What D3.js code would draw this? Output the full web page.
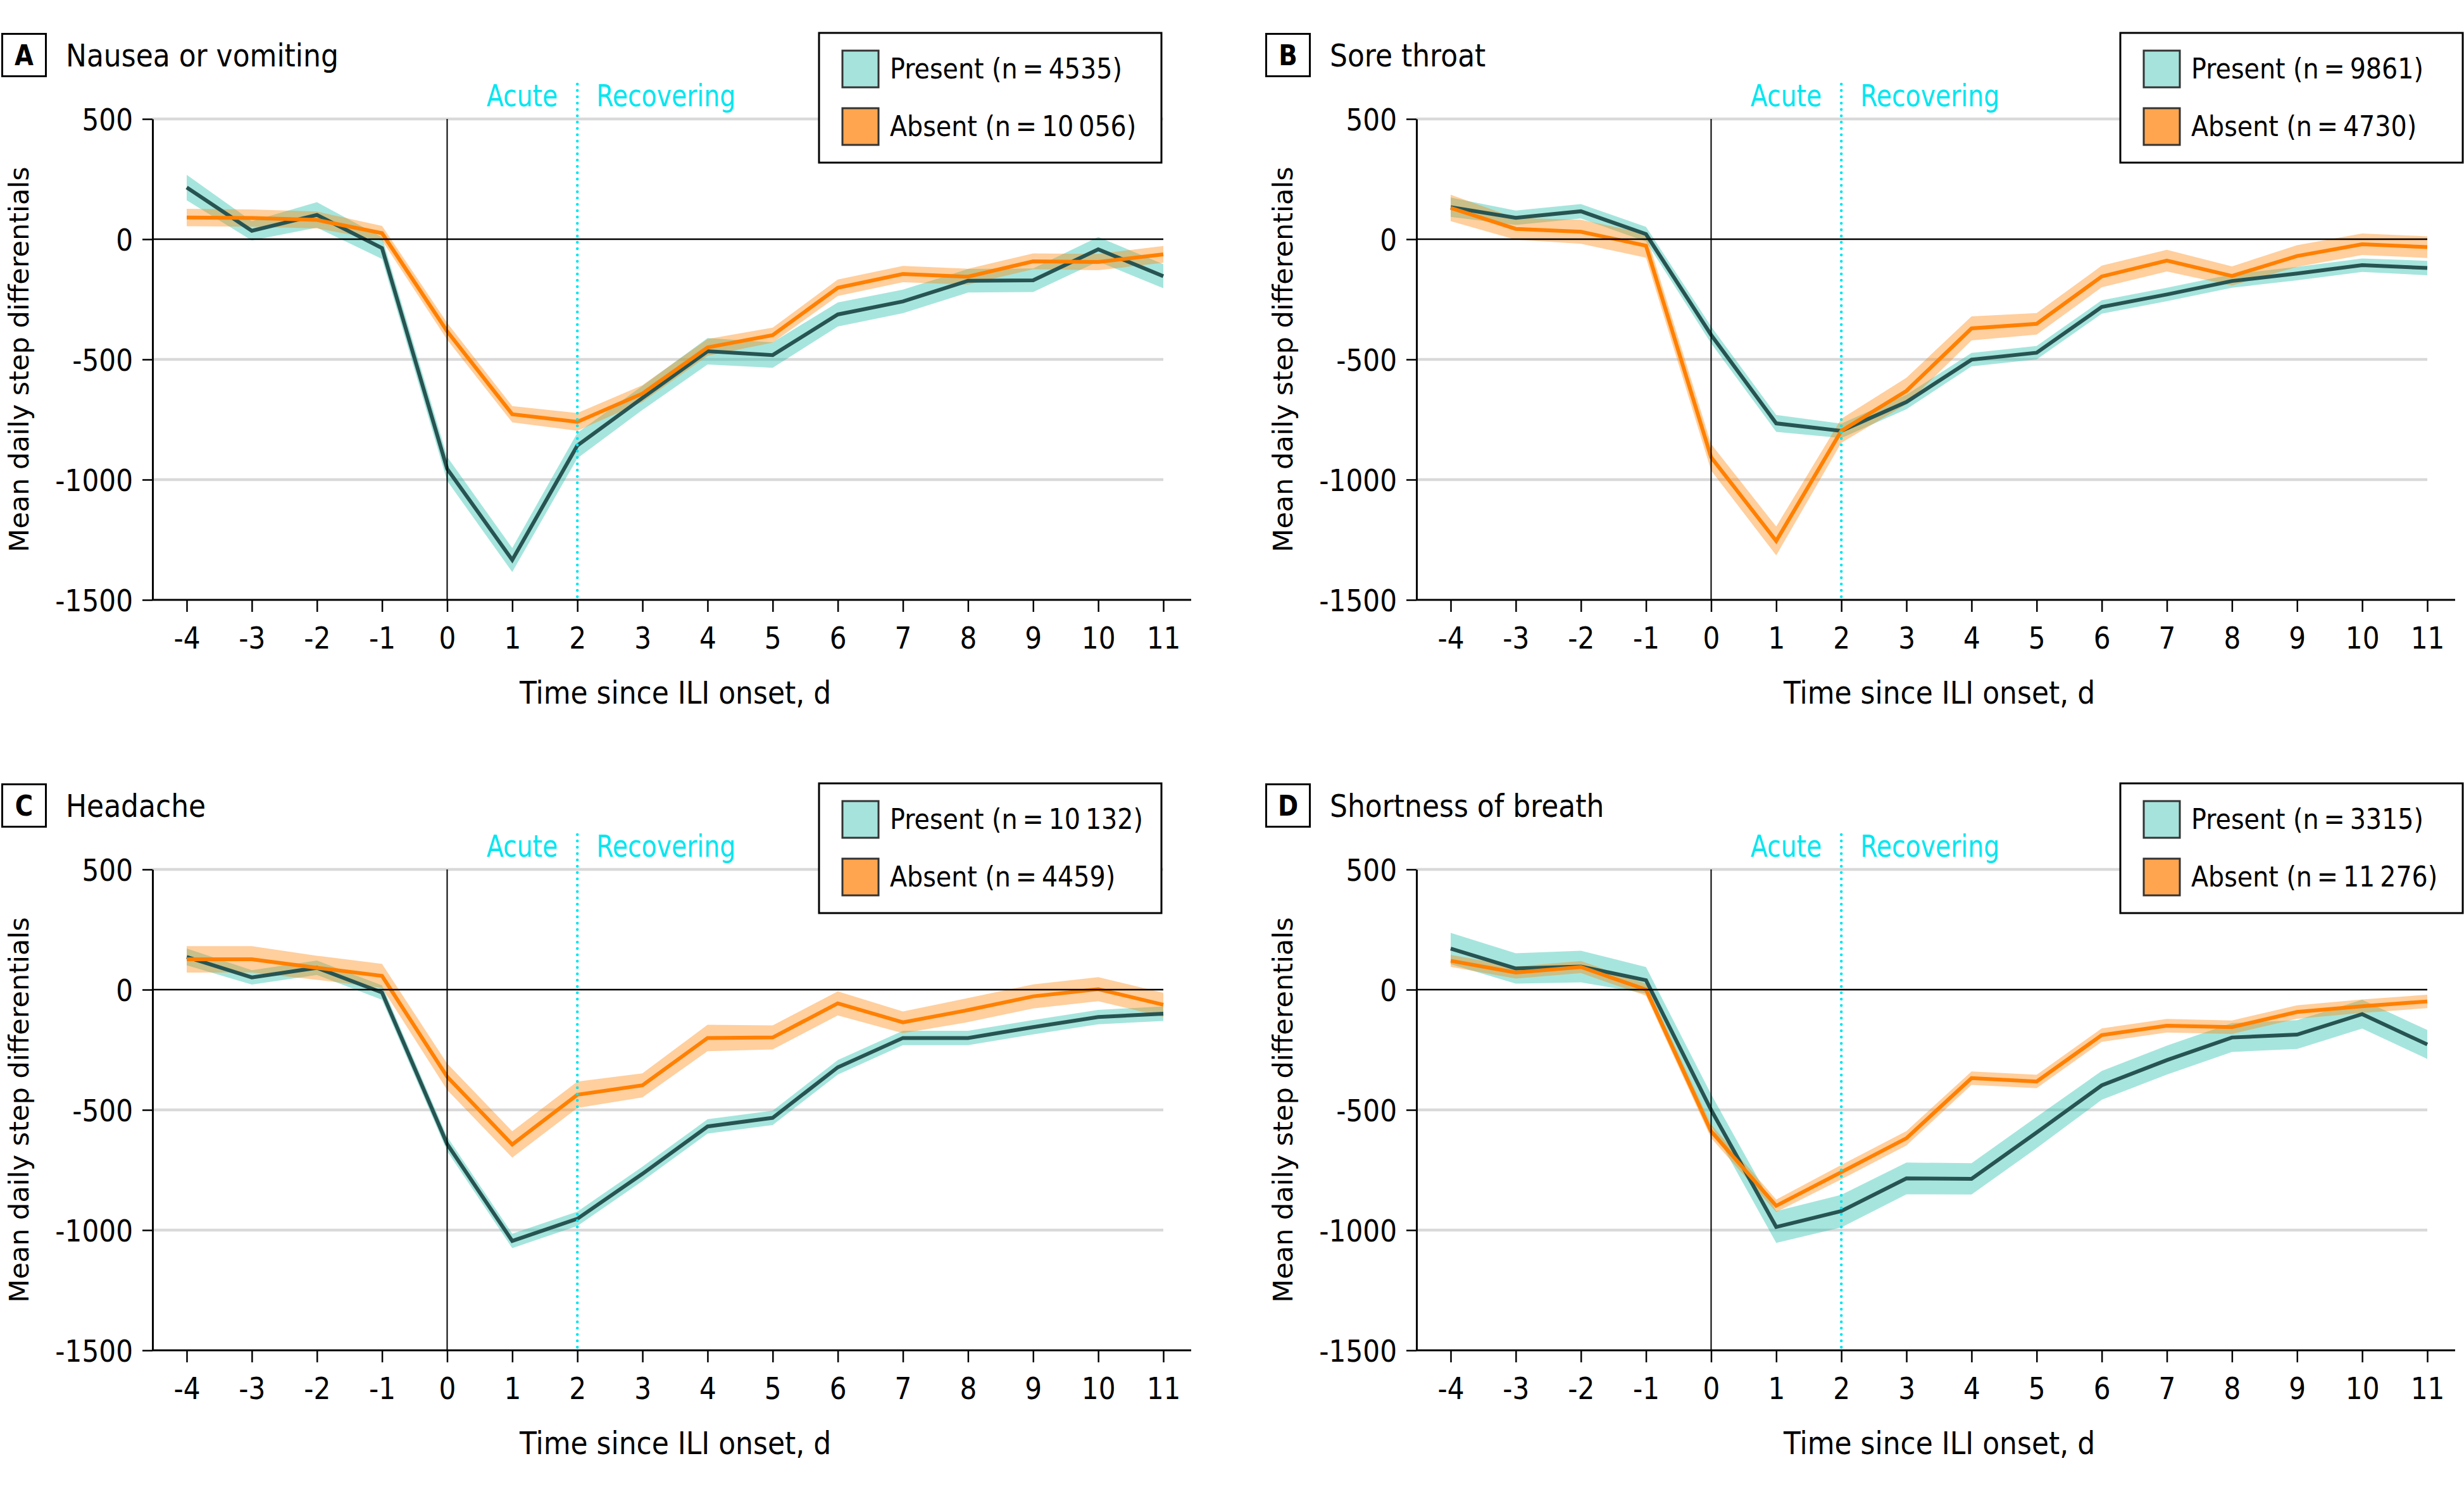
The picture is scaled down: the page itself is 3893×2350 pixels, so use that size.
<!DOCTYPE html>
<html><head><meta charset="utf-8">
<script src="https://cdn.jsdelivr.net/npm/d3@7"></script>
<style>html,body{margin:0;padding:0;background:#fff}svg{display:block}</style>
</head><body>
<script>
// ---------- DATA ----------
const days = [-4,-3,-2,-1,0,1,2,3,4,5,6,7,8,9,10,11];
const yTicks = [500,0,-500,-1000,-1500];
const panelLetters = ["A","B","C","D"];
const panelTitles = ["Nausea or vomiting","Sore throat","Headache","Shortness of breath"];
const presentLabels = ["Present (n\u2009=\u20094535)","Present (n\u2009=\u20099861)","Present (n\u2009=\u200910\u2009132)","Present (n\u2009=\u20093315)"];
const absentLabels  = ["Absent (n\u2009=\u200910\u2009056)","Absent (n\u2009=\u20094730)","Absent (n\u2009=\u20094459)","Absent (n\u2009=\u200911\u2009276)"];
const phaseLabels = ["Acute","Recovering"];
const phaseBoundary = 2;

// Panel A – Nausea or vomiting
const presentA   = [215, 35, 101, -37, -955, -1334, -858, -660, -466, -482, -313, -259, -173, -171, -42, -154];
const presentCiA = [53, 40, 53, 45, 50, 50, 53, 50, 55, 53, 50, 49, 49, 49, 51, 50];
const absentA    = [90, 88, 80, 25, -383, -728, -760, -642, -450, -399, -202, -145, -156, -92, -95, -63];
const absentCiA  = [36, 36, 35, 30, 35, 34, 37, 35, 35, 31, 34, 34, 33, 33, 34, 35];
// Panel B – Sore throat
const presentB   = [133, 89, 116, 21, -398, -766, -797, -677, -501, -472, -282, -230, -174, -143, -108, -120];
const presentCiB = [40, 30, 30, 30, 35, 35, 30, 30, 28, 28, 28, 28, 28, 28, 28, 30];
const absentB    = [130, 43, 31, -27, -907, -1255, -797, -631, -371, -352, -155, -89, -153, -70, -21, -33];
const absentCiB  = [55, 45, 50, 50, 55, 60, 50, 55, 50, 45, 45, 45, 40, 45, 45, 45];
// Panel C – Headache
const presentC   = [136, 51, 91, -12, -642, -1045, -953, -766, -569, -533, -323, -201, -201, -156, -114, -100];
const presentCiC = [35, 30, 30, 30, 30, 30, 30, 30, 30, 30, 30, 30, 30, 30, 30, 30];
const absentC    = [126, 126, 91, 57, -362, -644, -437, -398, -201, -199, -57, -136, -85, -28, 2, -63];
const absentCiC  = [55, 55, 50, 50, 55, 55, 55, 50, 55, 50, 50, 45, 50, 50, 50, 50];
// Panel D – Shortness of breath
const presentD   = [171, 88, 96, 39, -500, -987, -921, -785, -787, -594, -398, -293, -199, -187, -102, -228];
const presentCiD = [65, 63, 66, 55, 65, 66, 68, 66, 65, 65, 60, 60, 60, 60, 60, 60];
const absentD    = [120, 71, 94, 0, -589, -899, -759, -618, -368, -382, -189, -150, -156, -93, -69, -49];
const absentCiD  = [25, 25, 25, 25, 28, 26, 30, 30, 28, 28, 28, 28, 28, 28, 28, 28];

const presentSeries = [presentA, presentB, presentC, presentD];
const presentCis    = [presentCiA, presentCiB, presentCiC, presentCiD];
const absentSeries  = [absentA, absentB, absentC, absentD];
const absentCis     = [absentCiA, absentCiB, absentCiC, absentCiD];

// ---------- LAYOUT / STYLE ----------
const W = 3893, H = 2350;
const FONT = "'DejaVu Sans', Verdana, sans-serif";
const SX = 0.88;
const panelOffsets = [[0,0],[1997,0],[0,1186],[1997,1186]];
const legendLeft = [1294, 1353, 1294, 1353];
const COL = {
  darkLine: "#275452", teal: "rgba(32,190,170,0.40)", tealSw: "#a6e3dc",
  orange: "#ff8000", orangeBand: "rgba(255,128,0,0.38)", orangeSw: "#ffa54f",
  grid: "#d9d9d9", cyan: "#00e6f0"
};

const svg = d3.select("body").append("svg").attr("width", W).attr("height", H)
  .attr("viewBox", `0 0 ${W} ${H}`);
svg.append("rect").attr("width", W).attr("height", H).attr("fill", "#fff");

function ctext(parent, x, y, str, size, opts = {}) {
  const g = parent.append("g").attr("transform", `translate(${x},${y})`);
  return g.append("text")
    .attr("transform", `scale(${opts.sx ?? SX},1)`)
    .attr("font-family", FONT).attr("font-size", size)
    .attr("font-weight", opts.weight || "normal")
    .attr("text-anchor", opts.anchor || "start")
    .attr("fill", opts.fill || "#000")
    .text(str);
}

const x = d3.scaleLinear().domain([-4, 11]).range([295, 1838]);
const y = d3.scaleLinear().domain([-1500, 500]).range([948, 188]);
const axisX0 = 241, axisXEnd = 1882;

const area = d3.area().x(d => x(d.day)).y0(d => y(d.v - d.ci)).y1(d => y(d.v + d.ci));
const line = d3.line().x(d => x(d.day)).y(d => y(d.v));

panelLetters.forEach((letter, i) => {
  const [ox, oy] = panelOffsets[i];
  const g = svg.append("g").attr("transform", `translate(${ox},${oy})`);

  // gridlines
  g.selectAll(".grid").data(yTicks.filter(t => t !== 0 && t !== -1500)).join("line")
    .attr("x1", axisX0).attr("x2", x(11)).attr("y1", d => y(d)).attr("y2", d => y(d))
    .attr("stroke", COL.grid).attr("stroke-width", 4.5);

  const pres = days.map((d, k) => ({day: d, v: presentSeries[i][k], ci: presentCis[i][k]}));
  const abs  = days.map((d, k) => ({day: d, v: absentSeries[i][k], ci: absentCis[i][k]}));

  g.append("path").datum(pres).attr("d", area).attr("fill", COL.teal);
  g.append("path").datum(abs).attr("d", area).attr("fill", COL.orangeBand);
  g.append("path").datum(pres).attr("d", line).attr("fill", "none")
    .attr("stroke", COL.darkLine).attr("stroke-width", 6);
  g.append("path").datum(abs).attr("d", line).attr("fill", "none")
    .attr("stroke", COL.orange).attr("stroke-width", 6);

  // zero line
  g.append("line").attr("x1", axisX0).attr("x2", x(11)).attr("y1", y(0)).attr("y2", y(0))
    .attr("stroke", "#000").attr("stroke-width", 2.6);
  // onset vertical line
  g.append("line").attr("x1", x(0)).attr("x2", x(0)).attr("y1", y(500)).attr("y2", y(-1500))
    .attr("stroke", "#000").attr("stroke-width", 2);
  // phase boundary dotted line
  g.append("line").attr("x1", x(phaseBoundary)).attr("x2", x(phaseBoundary))
    .attr("y1", 133).attr("y2", y(-1500))
    .attr("stroke", COL.cyan).attr("stroke-width", 4.5)
    .attr("stroke-dasharray", "0 10").attr("stroke-linecap", "round");

  // y axis
  const gy = g.append("g").attr("transform", `translate(${axisX0},0)`)
    .call(d3.axisLeft(y).tickValues(yTicks).tickSize(16).tickSizeOuter(0).tickFormat(d => String(d)));
  gy.select(".domain").attr("stroke", "#000").attr("stroke-width", 3);
  gy.selectAll(".tick line").attr("stroke", "#000").attr("stroke-width", 2.5);
  gy.selectAll(".tick text").attr("font-family", FONT).attr("font-size", 48).attr("fill", "#000")
    .attr("x", -31 / SX).attr("dy", "0.36em").attr("transform", `scale(${SX},1)`);

  // x axis
  g.append("line").attr("x1", axisX0).attr("x2", axisXEnd).attr("y1", y(-1500)).attr("y2", y(-1500))
    .attr("stroke", "#000").attr("stroke-width", 3);
  const gx = g.append("g").attr("transform", `translate(0,${y(-1500)})`)
    .call(d3.axisBottom(x).tickValues(days).tickSize(19).tickSizeOuter(0).tickFormat(d => String(d)));
  gx.select(".domain").remove();
  gx.selectAll(".tick line").attr("stroke", "#000").attr("stroke-width", 2.5);
  gx.selectAll(".tick text").attr("font-family", FONT).attr("font-size", 48).attr("fill", "#000")
    .attr("y", 77).attr("dy", null).attr("transform", `scale(${SX},1)`);

  // axis titles
  ctext(g, 1067, 1112, "Time since ILI onset, d", 50, {anchor: "middle"});
  g.append("text").attr("transform", `translate(45,${y(-500)}) rotate(-90)`)
    .attr("font-family", FONT).attr("font-size", 43).attr("text-anchor", "middle")
    .attr("fill", "#000").text("Mean daily step differentials");

  // panel letter + title
  g.append("rect").attr("x", 3.5).attr("y", 53.5).attr("width", 69).attr("height", 67)
    .attr("fill", "#fff").attr("stroke", "#000").attr("stroke-width", 3);
  ctext(g, 38, 103, letter, 44, {anchor: "middle", weight: "bold"});
  ctext(g, 104, 105, panelTitles[i], 50);

  // phase labels
  ctext(g, x(phaseBoundary) - 31, 168, phaseLabels[0], 48, {anchor: "end", fill: COL.cyan, sx: 0.82});
  ctext(g, x(phaseBoundary) + 30, 168, phaseLabels[1], 48, {fill: COL.cyan, sx: 0.82});

  // legend
  const L = legendLeft[i];
  g.append("rect").attr("x", L).attr("y", 52).attr("width", 541).attr("height", 205)
    .attr("fill", "#fff").attr("stroke", "#000").attr("stroke-width", 3);
  g.append("rect").attr("x", L + 37).attr("y", 80).attr("width", 57).attr("height", 58)
    .attr("fill", COL.tealSw).attr("stroke", "#333").attr("stroke-width", 3);
  g.append("rect").attr("x", L + 37).attr("y", 171).attr("width", 57).attr("height", 58)
    .attr("fill", COL.orangeSw).attr("stroke", "#333").attr("stroke-width", 3);
  ctext(g, L + 112, 124, presentLabels[i], 45);
  ctext(g, L + 112, 215, absentLabels[i], 45);
});
</script>
</body></html>
